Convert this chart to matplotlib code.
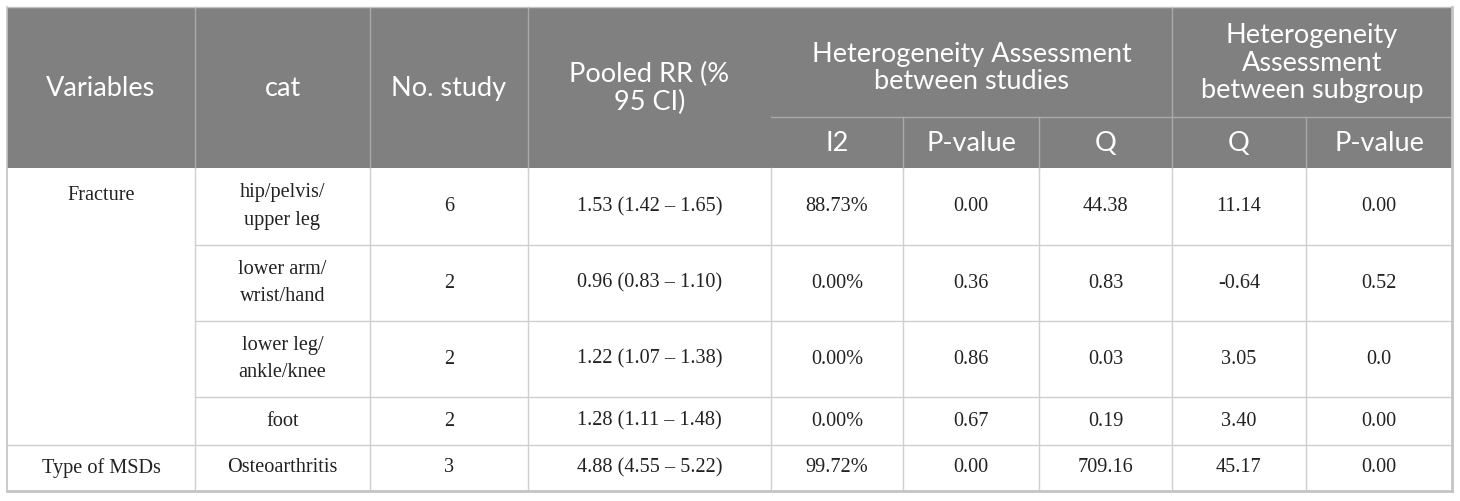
import matplotlib
matplotlib.use("Agg")
import matplotlib.pyplot as plt
from matplotlib.patches import Rectangle

# ---- data ----
variables = ["Fracture", "Type of MSDs"]
variable_spans = [4, 1]
cats = ["hip/pelvis/\nupper leg", "lower arm/\nwrist/hand", "lower leg/\nankle/knee", "foot", "Osteoarthritis"]
n_study = ["6", "2", "2", "2", "3"]
pooled_rr = ["1.53 (1.42 – 1.65)", "0.96 (0.83 – 1.10)", "1.22 (1.07 – 1.38)",
             "1.28 (1.11 – 1.48)", "4.88 (4.55 – 5.22)"]
i2 = ["88.73%", "0.00%", "0.00%", "0.00%", "99.72%"]
p_studies = ["0.00", "0.36", "0.86", "0.67", "0.00"]
q_studies = ["44.38", "0.83", "0.03", "0.19", "709.16"]
q_subgroup = ["11.14", "-0.64", "3.05", "3.40", "45.17"]
p_subgroup = ["0.00", "0.52", "0.0", "0.00", "0.00"]

top_headers = ["Variables", "cat", "No. study", "Pooled RR (%\n95 CI)"]
group_headers = ["Heterogeneity Assessment\nbetween studies", "Heterogeneity\nAssessment\nbetween subgroup"]
sub_headers = ["I2", "P-value", "Q", "Q", "P-value"]

# ---- layout (pixels) ----
W, H = 1460, 501
col_edges = [7, 195, 370, 528, 771, 903, 1039, 1172, 1306, 1452]
y_top, y_sub, y_head = 7, 117, 168
row_edges = [168, 245, 321, 397, 445, 491]

HEAD_BG = "#808080"
HEAD_SEP = "#a9a9a9"
GRID = "#cfcfcf"
TEXT = "#222222"

fig = plt.figure(figsize=(W / 100, H / 100), dpi=100)
ax = fig.add_axes([0, 0, 1, 1])
ax.set_xlim(0, W)
ax.set_ylim(H, 0)
ax.axis("off")

head_font = dict(family=["Lato", "DejaVu Sans"], fontsize=19.5, color="white")
body_font = dict(family=["Liberation Serif", "DejaVu Serif"], fontsize=14.6, color=TEXT)

# header background
ax.add_patch(Rectangle((col_edges[0], y_top), col_edges[-1] - col_edges[0], y_head - y_top,
                       facecolor=HEAD_BG, edgecolor="none", zorder=1))
# header separators
for x in col_edges[1:4]:
    ax.plot([x, x], [y_top, y_head], color=HEAD_SEP, lw=1, zorder=2)
ax.plot([col_edges[7], col_edges[7]], [y_top, y_head], color=HEAD_SEP, lw=1, zorder=2)
for x in [col_edges[5], col_edges[6], col_edges[8]]:
    ax.plot([x, x], [y_sub, y_head], color=HEAD_SEP, lw=1, zorder=2)
ax.plot([col_edges[4], col_edges[-1]], [y_sub, y_sub], color=HEAD_SEP, lw=1, zorder=2)

# header texts
HLS = 1.12
for i, t in enumerate(top_headers):
    cx = (col_edges[i] + col_edges[i + 1]) / 2
    ax.text(cx, (y_top + y_head) / 2 + 1, t, ha="center", va="center", linespacing=HLS, **head_font)
ax.text((col_edges[4] + col_edges[7]) / 2, (y_top + y_sub) / 2 + 6, group_headers[0],
        ha="center", va="center", linespacing=HLS, **head_font)
ax.text((col_edges[7] + col_edges[9]) / 2, (y_top + y_sub) / 2 + 1, group_headers[1],
        ha="center", va="center", linespacing=HLS, **head_font)
for j, t in enumerate(sub_headers):
    cx = (col_edges[4 + j] + col_edges[5 + j]) / 2
    ax.text(cx, (y_sub + y_head) / 2 + 1, t, ha="center", va="center", **head_font)

# body grid
for x in col_edges[1:-1]:
    ax.plot([x, x], [y_head, row_edges[-1]], color=GRID, lw=1, zorder=2)
r = 0
span_bounds = []
for s in variable_spans:
    span_bounds.append((r, r + s))
    r += s
for k in range(1, len(row_edges) - 1):
    is_span_boundary = any(k == b[0] for b in span_bounds)
    x0 = col_edges[0] if is_span_boundary else col_edges[1]
    ax.plot([x0, col_edges[-1]], [row_edges[k], row_edges[k]], color=GRID, lw=1, zorder=2)
# outer border
ax.plot([col_edges[0], col_edges[0]], [y_top, row_edges[-1]], color="#c4c4c4", lw=1.2, zorder=3)
ax.plot([col_edges[-1], col_edges[-1]], [y_top, row_edges[-1]], color="#c4c4c4", lw=2, zorder=3)
ax.plot([col_edges[0], col_edges[-1]], [row_edges[-1], row_edges[-1]], color="#c4c4c4", lw=2, zorder=3)
ax.plot([col_edges[0], col_edges[-1]], [y_top, y_top], color="#c4c4c4", lw=1, zorder=3)

# variable column texts
for (a, b), name in zip(span_bounds, variables):
    cx = (col_edges[0] + col_edges[1]) / 2
    if b - a > 1:
        ax.text(cx, row_edges[a] + 27, name, ha="center", va="center", **body_font)
    else:
        ax.text(cx, (row_edges[a] + row_edges[b]) / 2, name, ha="center", va="center", **body_font)

# body cells
columns = [cats, n_study, pooled_rr, i2, p_studies, q_studies, q_subgroup, p_subgroup]
for ci, col in enumerate(columns):
    cx = (col_edges[ci + 1] + col_edges[ci + 2]) / 2
    for ri, val in enumerate(col):
        cy = (row_edges[ri] + row_edges[ri + 1]) / 2
        ax.text(cx, cy, val, ha="center", va="center", linespacing=1.58, **body_font)

fig.savefig("out.png", dpi=100, facecolor="white")
